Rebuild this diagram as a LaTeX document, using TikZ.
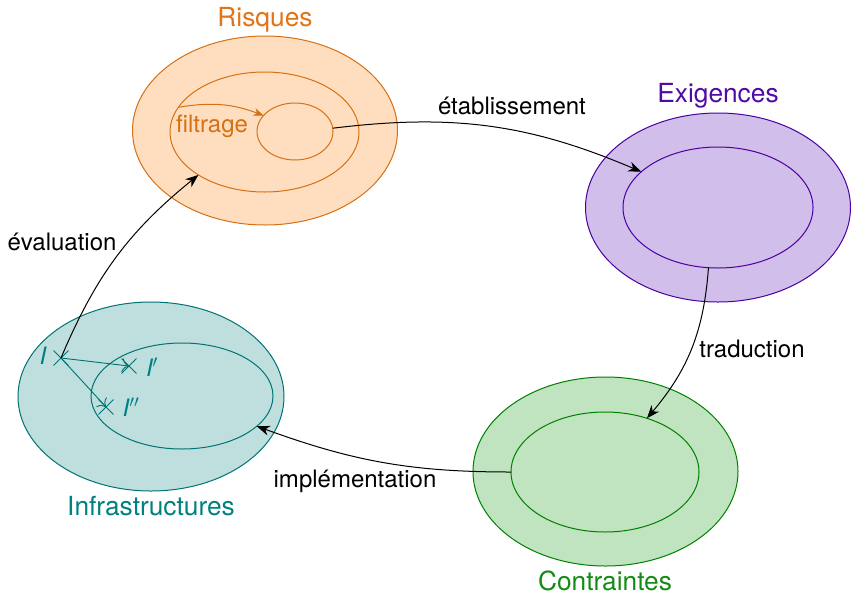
\documentclass[tikz,border=0pt]{standalone}
\usepackage{fontspec}
\setmainfont{TeX Gyre Heros}
\usetikzlibrary{shapes.geometric,shapes.misc,arrows.meta}

\definecolor{rqline}{RGB}{214,112,20}
\definecolor{rqfill}{RGB}{255,222,191}
\definecolor{rqtext}{RGB}{227,115,20}
\definecolor{exline}{RGB}{75,0,160}
\definecolor{exfill}{RGB}{209,190,234}
\definecolor{extext}{RGB}{80,10,165}
\definecolor{ctline}{RGB}{0,128,0}
\definecolor{ctfill}{RGB}{191,228,191}
\definecolor{cttext}{RGB}{20,140,20}
\definecolor{inline}{RGB}{0,115,115}
\definecolor{infill}{RGB}{191,223,223}
\definecolor{intext}{RGB}{0,128,128}

\begin{document}
\begin{tikzpicture}[x=1pt,y=-1pt,
  zone/.style={ellipse, inner sep=0pt, outer sep=0pt, line width=1pt},
  lbl/.style={inner sep=0pt, font=\fontsize{24}{28}\selectfont},
  ttl/.style={inner sep=0pt, font=\fontsize{26.3}{30}\selectfont},
  link/.style={line width=1pt, -{Stealth[length=13pt,width=10pt,inset=4pt]}},
  pt/.style={cross out, draw=inline, line width=0.9pt, minimum size=14pt, inner sep=0pt},
  ptlink/.style={line width=0.9pt, draw=inline, -{To[length=7pt,width=14pt]}},
]
\useasboundingbox (0,0) rectangle (851,595);

% Risques
\node[zone, draw=rqline, fill=rqfill, minimum width=265pt, minimum height=189pt] (rout) at (265,130.5) {};
\node[zone, draw=rqline, minimum width=189pt, minimum height=120pt] (rmid) at (264.5,132) {};
\node[zone, draw=rqline, minimum width=76pt, minimum height=57pt] (rin) at (295,131.5) {};
\node[ttl, text=rqtext] (rt) at (265,20) {Risques};

% Exigences
\node[zone, draw=exline, fill=exfill, minimum width=265pt, minimum height=189pt] (eout) at (718,207.5) {};
\node[zone, draw=exline, minimum width=190pt, minimum height=121pt] (ein) at (718,207.5) {};
\node[ttl, text=extext] (et) at (718,96) {Exigences};

% Contraintes
\node[zone, draw=ctline, fill=ctfill, minimum width=265pt, minimum height=189pt] (cout) at (605.5,471.5) {};
\node[zone, draw=ctline, minimum width=188pt, minimum height=120pt] (cin) at (605,472) {};
\node[ttl, text=cttext] (ct) at (605,581) {Contraintes};

% Infrastructures
\node[zone, draw=inline, fill=infill, minimum width=266pt, minimum height=189pt] (iout) at (151,396.5) {};
\node[zone, draw=inline, minimum width=182pt, minimum height=106pt] (iin) at (182,396) {};
\node[ttl, text=intext] (it) at (151,506) {Infrastructures};

% points inside the infrastructures
\node[pt] (i0) at (61,358) {};
\node[pt] (i1) at (129,366) {};
\node[pt] (i2) at (106,407) {};
\node[lbl, text=intext] (l0) at (43,356) {\itshape I};
\node[lbl, text=intext] (l1) at (152,367) {\itshape I$'$};
\node[lbl, text=intext] (l2) at (131,407) {\itshape I$''$};
\draw[ptlink] (i0.center) -- (i1.center);
\draw[ptlink] (i0.center) -- (i2.center);

% filtering step
\draw[line width=1pt, draw=rqline, -{Stealth[length=10pt,width=8pt,inset=3pt]}] (rmid.164) to[bend left=15] (rin.153);
\node[lbl, text=rqline] (fl) at (212,126) {filtrage};

% cycle
\draw[link] (i0.center) to[bend left=14] (rmid.213);
\node[lbl] (ev) at (62,242) {évaluation};
\draw[link] (rin.5) to[bend left=15] (ein.155);
\node[lbl] (eb) at (512,106) {établissement};
\draw[link] (ein.261) to[bend left=18] (cin.52);
\node[lbl] (tr) at (752,349) {traduction};
\draw[link] (cin.180) to[out=180,in=-20] (iin.-22);
\node[lbl] (im) at (355,481) {implémentation};
\end{tikzpicture}
\end{document}
